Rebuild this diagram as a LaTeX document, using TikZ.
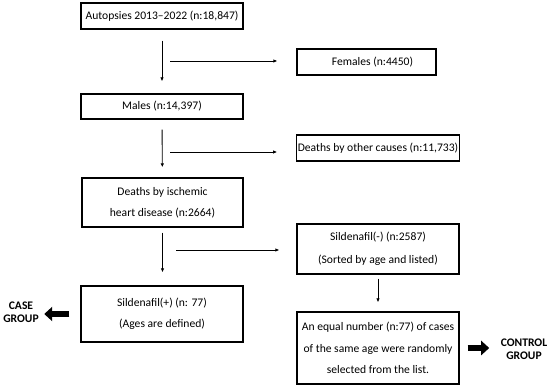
\documentclass[tikz,border=0pt]{standalone}
\usepackage{fontspec}
\setmainfont{Carlito}
\usepackage{tikz}
\usetikzlibrary{positioning,calc,arrows.meta}

\begin{document}
\begin{tikzpicture}[x=1pt, y=-1pt, font=\fontsize{11.6}{14}\selectfont,
    box/.style={draw, line width=1.3pt, minimum width=162pt, align=center, inner xsep=1pt, inner ysep=2pt},
    thin/.style={line width=0.9pt, -{Latex[length=4pt, width=3.5pt]}},
    fat/.style={line width=6pt, -{Triangle[length=8pt, width=14pt]}},
    grp/.style={font=\fontsize{11.6}{13.5}\selectfont\bfseries, align=center}]
  \useasboundingbox (0, 0) rectangle (550, 390);

  \node[box, minimum height=26pt] (autop) at (162, 16) {Autopsies 2013--2022 (n:18,847)};
  \node[box, minimum width=139pt, minimum height=26pt] (fem) at (366.5, 62) {\hspace*{12pt}Females (n:4450)};
  \node[box, minimum height=25pt] (male) at (162, 106.5) {Males (n:14,397)};
  \node[box, minimum height=26pt] (other) at (378, 148) {Deaths by other causes (n:11,733)};
  \node[box, minimum width=161pt, minimum height=49pt, font=\fontsize{11.6}{21}\selectfont] (ihd) at (162.5, 202.5) {Deaths by ischemic\\heart disease (n:2664)};
  \node[box, minimum height=50pt, font=\fontsize{11.6}{23}\selectfont] (minus) at (378, 249) {Sildenafil(-) (n:2587)\\(Sorted by age and listed)};
  \node[box, minimum height=56pt, font=\fontsize{11.6}{21}\selectfont] (plus) at (162, 314) {Sildenafil(+) (n: 77)\\(Ages are defined)};
  \node[box, minimum height=72pt, font=\fontsize{11.6}{21.5}\selectfont] (equal) at (378, 348) {An equal number (n:77) of cases\\of the same age were randomly\\selected from the list.};

  \node[grp] (case) at (21, 312) {CASE\\GROUP};
  \node[grp] (ctrl) at (524, 349) {CONTROL\\GROUP};

  % main line
  \draw[thin, shorten <=11pt, shorten >=12pt] (autop) -- (male);
  \draw[thin, shorten <=10pt, shorten >=10pt] (male) -- (ihd);
  \draw[thin, shorten <=5pt, shorten >=13pt] (ihd.south) -- (ihd.south |- plus.north);
  \draw[thin, shorten <=4pt, shorten >=9pt] (minus) -- (equal);

  % side exits
  \coordinate (s1) at (170, 61);
  \coordinate (s2) at (170, 152);
  \coordinate (s3) at (176, 250);
  \draw[thin, shorten >=19pt] (s1) -- (s1 -| fem.west);
  \draw[thin, shorten >=19pt] (s2) -- (s2 -| other.west);
  \draw[thin, shorten >=17pt] (s3) -- (s3 -| minus.west);

  % groups
  \draw[fat, shorten <=11pt, shorten >=2pt] (plus.west) -- (plus.west -| case.east);
  \draw[fat, shorten <=8pt, shorten >=8pt] (equal.east) -- (equal.east -| ctrl.west);
\end{tikzpicture}
\end{document}
